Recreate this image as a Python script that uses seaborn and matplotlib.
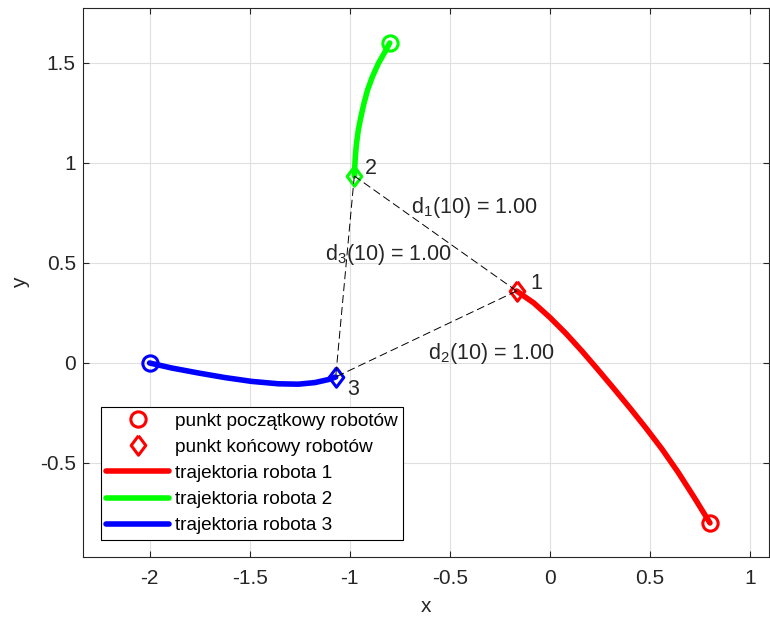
import matplotlib
matplotlib.use("Agg")
import matplotlib.pyplot as plt
from matplotlib.lines import Line2D
import pandas as pd
import seaborn as sns

sns.set_theme(style="whitegrid")
plt.rcParams["font.family"] = ["Liberation Sans", "DejaVu Sans"]
plt.rcParams["mathtext.fontset"] = "custom"
plt.rcParams["mathtext.rm"] = "Liberation Sans"
plt.rcParams["mathtext.it"] = "Liberation Sans:italic"

# trajectories
r1_x = [0.80, 0.72, 0.64, 0.56, 0.48, 0.40, 0.32, 0.24, 0.16, 0.08, 0.0, -0.08, -0.166]
r1_y = [-0.80, -0.67, -0.545, -0.43, -0.325, -0.225, -0.128, -0.033, 0.06, 0.148, 0.228, 0.30, 0.36]

r2_x = [-0.80, -0.824, -0.857, -0.887, -0.911, -0.929, -0.944, -0.957, -0.966, -0.972, -0.977]
r2_y = [1.60, 1.555, 1.497, 1.43, 1.364, 1.297, 1.23, 1.164, 1.097, 1.03, 0.935]

r3_x = [-2.0, -1.89, -1.756, -1.623, -1.49, -1.357, -1.257, -1.174, -1.107, -1.07]
r3_y = [0.0, -0.025, -0.05, -0.073, -0.092, -0.104, -0.106, -0.098, -0.083, -0.07]

colors = ["#ff0000", "#00ff00", "#0000ff"]
robot_labels = ["1", "2", "3"]
dist_labels = [r"d$_\mathrm{1}$(10) = 1.00", r"d$_\mathrm{2}$(10) = 1.00", r"d$_\mathrm{3}$(10) = 1.00"]
pairs = [(0, 1), (0, 2), (1, 2)]

trajs = [(r1_x, r1_y), (r2_x, r2_y), (r3_x, r3_y)]

# label anchors (left, baseline)
robot_lab_pos = [(-0.098, 0.368), (-0.922, 0.945), (-1.014, -0.16)]
dist_lab_pos = [(-0.694, 0.749), (-0.609, 0.018), (-1.125, 0.515)]

fig = plt.figure(figsize=(7.7, 6.24), dpi=100)
ax = fig.add_axes([0.1074, 0.1074, 0.8913, 0.8798])

diamond = [(0, 1), (0.75, 0), (0, -1), (-0.75, 0), (0, 1)]

for (tx, ty), c in zip(trajs, colors):
    df = pd.DataFrame({"x": tx, "y": ty})
    sns.lineplot(data=df, x="x", y="y", sort=False, estimator=None, color=c,
                 linewidth=4, ax=ax, zorder=3)
    ax.plot(tx[0], ty[0], marker="o", ms=11, mfc="none", mec=c, mew=2.2, zorder=4)
    ax.plot(tx[-1], ty[-1], marker=diamond, ms=14, mfc="none", mec=c, mew=2.2, zorder=4)

ends = [(t[0][-1], t[1][-1]) for t in trajs]
for (i, j) in pairs:
    ax.plot([ends[i][0], ends[j][0]], [ends[i][1], ends[j][1]], color="black",
            linestyle=(0, (8.2, 4.1)), linewidth=0.7, zorder=5)

for lab, (x, y) in zip(robot_labels, robot_lab_pos):
    ax.text(x, y, lab, fontsize=15.5, ha="left", va="baseline", zorder=6)
for lab, (x, y) in zip(dist_labels, dist_lab_pos):
    ax.text(x, y, lab, fontsize=15.5, ha="left", va="baseline", zorder=6)

ax.set_xlim(-2.334, 1.095)
ax.set_ylim(-0.97, 1.775)
ax.set_xticks([-2, -1.5, -1, -0.5, 0, 0.5, 1])
ax.set_xticklabels(["-2", "-1.5", "-1", "-0.5", "0", "0.5", "1"])
ax.set_yticks([-0.5, 0, 0.5, 1, 1.5])
ax.set_yticklabels(["-0.5", "0", "0.5", "1", "1.5"])
ax.set_xlabel("x", fontsize=15, color="#262626", labelpad=6)
ax.set_ylabel("y", fontsize=15, color="#262626", labelpad=7)

ax.set_facecolor("white")
ax.grid(True, color="#dfdfdf", linewidth=0.8)
for s in ax.spines.values():
    s.set_color("#262626")
    s.set_linewidth(0.8)
ax.tick_params(direction="in", length=4, width=0.8, top=True, right=True,
               labelsize=15, colors="#262626", bottom=True, left=True)
ax.tick_params(axis="x", pad=9)
ax.tick_params(axis="y", pad=5)

handles = [
    Line2D([], [], marker="o", ms=11, mfc="none", mec=colors[0], mew=2.2, linestyle="none"),
    Line2D([], [], marker=diamond, ms=14, mfc="none", mec=colors[0], mew=2.2, linestyle="none"),
    Line2D([], [], color=colors[0], linewidth=4),
    Line2D([], [], color=colors[1], linewidth=4),
    Line2D([], [], color=colors[2], linewidth=4),
]
labels = ["punkt początkowy robotów", "punkt końcowy robotów",
          "trajektoria robota 1", "trajektoria robota 2", "trajektoria robota 3"]
leg = ax.legend(handles, labels, loc="lower left", bbox_to_anchor=(18 / 686, 17 / 549),
                borderaxespad=0, fontsize=13.7, handlelength=3.3, handletextpad=0.3,
                labelspacing=0.46, fancybox=False, framealpha=1, edgecolor="black",
                borderpad=0.3)
leg.get_frame().set_linewidth(0.8)
for t in leg.get_texts():
    t.set_color("#000000")

fig.savefig("out.png", dpi=100)
